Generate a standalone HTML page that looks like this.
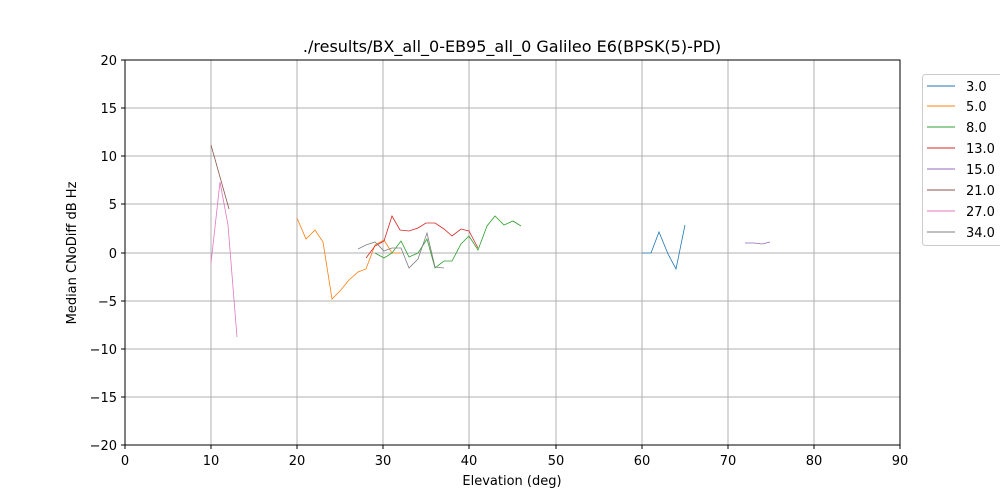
<!DOCTYPE html>
<html><head><style>body{margin:0;background:#fff}svg{display:block;font-family:"DejaVu Sans","Liberation Sans",sans-serif}</style></head><body>
<svg width="1000" height="500" xmlns="http://www.w3.org/2000/svg">
<g stroke="#b0b0b0" stroke-width="1">
<line x1="125" y1="60" x2="125" y2="445"/><line x1="211" y1="60" x2="211" y2="445"/><line x1="297" y1="60" x2="297" y2="445"/><line x1="383" y1="60" x2="383" y2="445"/><line x1="469" y1="60" x2="469" y2="445"/><line x1="556" y1="60" x2="556" y2="445"/><line x1="642" y1="60" x2="642" y2="445"/><line x1="728" y1="60" x2="728" y2="445"/><line x1="814" y1="60" x2="814" y2="445"/>
<line x1="125" y1="108" x2="900" y2="108"/><line x1="125" y1="156" x2="900" y2="156"/><line x1="125" y1="204" x2="900" y2="204"/><line x1="125" y1="253" x2="900" y2="253"/><line x1="125" y1="301" x2="900" y2="301"/><line x1="125" y1="349" x2="900" y2="349"/><line x1="125" y1="397" x2="900" y2="397"/>
</g>
<g fill="none" stroke-width="0.8">
<polyline stroke="#1f77b4" points="642,253 651,253 659,232 668,254 676,269 685,225"/>
<polyline stroke="#ff7f0e" points="297,218 306,239 315,230 323,242 332,299 340,291 349,280 358,272 366,269 375,245 384,240 392,253 401,253"/>
<polyline stroke="#2ca02c" points="375,253 384,258 392,253 401,241 409,257 418,253 427,239 435,268 444,261 452,261 461,244 469,236 478,250 487,226 495,216 504,225 513,221 521,226"/>
<polyline stroke="#d62728" points="366,258 375,246 384,241 392,216 400,230 409,231 418,228 426,223 435,223 444,229 452,236 461,229 469,231 478,248"/>
<polyline stroke="#9467bd" points="745,243 754,243 762,244 770,242"/>
<polyline stroke="#8c564b" points="211,145 229,209"/>
<polyline stroke="#e377c2" points="211,263 220,182 228,225 237,337"/>
<polyline stroke="#7f7f7f" points="358,249 366,245 375,242 384,251 392,248 401,248 409,268 418,259 427,233 435,267 444,268"/>
</g>
<rect x="125" y="60" width="775" height="385" fill="none" stroke="#000" stroke-width="1"/>
<g stroke="#000"><line x1="125" y1="445" x2="125" y2="449"/><line x1="211" y1="445" x2="211" y2="449"/><line x1="297" y1="445" x2="297" y2="449"/><line x1="383" y1="445" x2="383" y2="449"/><line x1="469" y1="445" x2="469" y2="449"/><line x1="556" y1="445" x2="556" y2="449"/><line x1="642" y1="445" x2="642" y2="449"/><line x1="728" y1="445" x2="728" y2="449"/><line x1="814" y1="445" x2="814" y2="449"/><line x1="900" y1="445" x2="900" y2="449"/>
<line x1="121" y1="60" x2="125" y2="60"/><line x1="121" y1="108" x2="125" y2="108"/><line x1="121" y1="156" x2="125" y2="156"/><line x1="121" y1="204" x2="125" y2="204"/><line x1="121" y1="253" x2="125" y2="253"/><line x1="121" y1="301" x2="125" y2="301"/><line x1="121" y1="349" x2="125" y2="349"/><line x1="121" y1="397" x2="125" y2="397"/><line x1="121" y1="445" x2="125" y2="445"/></g>
<g font-size="13" text-anchor="middle"><text x="125" y="465">0</text><text x="211" y="465">10</text><text x="297" y="465">20</text><text x="383" y="465">30</text><text x="469" y="465">40</text><text x="556" y="465">50</text><text x="642" y="465">60</text><text x="728" y="465">70</text><text x="814" y="465">80</text><text x="900" y="465">90</text>
<text x="512" y="485">Elevation (deg)</text><text x="512" y="52" font-size="16">./results/BX_all_0-EB95_all_0 Galileo E6(BPSK(5)-PD)</text>
<text transform="translate(76,253) rotate(-90)">Median CNoDiff dB Hz</text></g>
<g font-size="13" text-anchor="end"><text x="117" y="65">20</text><text x="117" y="113">15</text><text x="117" y="161">10</text><text x="117" y="209">5</text><text x="117" y="258">0</text><text x="117" y="306">−5</text><text x="117" y="354">−10</text><text x="117" y="402">−15</text><text x="117" y="450">−20</text></g>
<rect x="922.5" y="74.5" width="80" height="171" rx="3" fill="#fff" stroke="#ccc"/>
<g stroke-width="1"><line x1="927" y1="86" x2="955" y2="86" stroke="#1f77b4"/><line x1="927" y1="106" x2="955" y2="106" stroke="#ff7f0e"/><line x1="927" y1="127" x2="955" y2="127" stroke="#2ca02c"/><line x1="927" y1="148" x2="955" y2="148" stroke="#d62728"/><line x1="927" y1="169" x2="955" y2="169" stroke="#9467bd"/><line x1="927" y1="190" x2="955" y2="190" stroke="#8c564b"/><line x1="927" y1="211" x2="955" y2="211" stroke="#e377c2"/><line x1="927" y1="232" x2="955" y2="232" stroke="#7f7f7f"/></g>
<g font-size="13"><text x="966" y="91">3.0</text><text x="966" y="111">5.0</text><text x="966" y="132">8.0</text><text x="966" y="153">13.0</text><text x="966" y="174">15.0</text><text x="966" y="195">21.0</text><text x="966" y="216">27.0</text><text x="966" y="237">34.0</text></g>
</svg></body></html>
